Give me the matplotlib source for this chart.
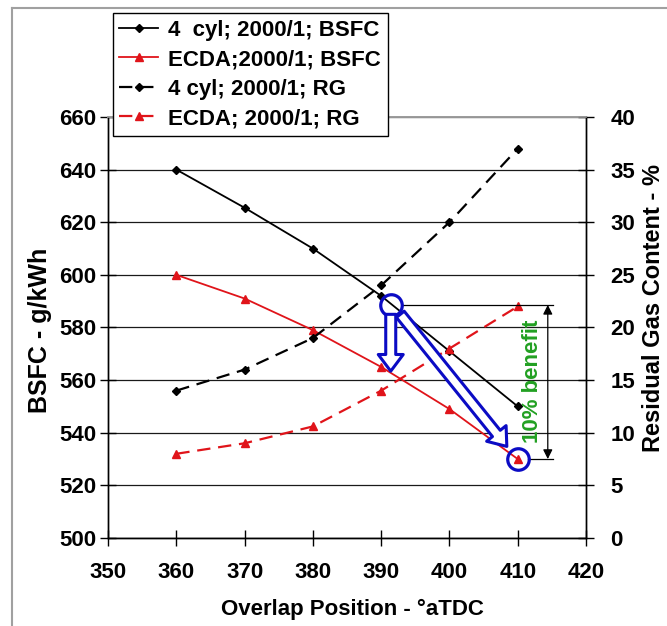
import matplotlib
matplotlib.use("Agg")
import matplotlib.pyplot as plt
from matplotlib.lines import Line2D

plt.rcParams['font.family'] = ['Liberation Sans', 'DejaVu Sans']
plt.rcParams['font.weight'] = 'bold'

# overlap position, deg aTDC
overlap = [360, 370, 380, 390, 400, 410]

# BSFC, g/kWh (left axis)
bsfc_4cyl = [640, 625.5, 610, 592, 571, 550]
bsfc_ecda = [600, 591, 579, 565, 549, 530]

# residual gas content, % (right axis)
rg_4cyl = [14, 16, 19, 24, 30, 37]
rg_ecda = [8, 9, 10.6, 14, 18, 22]

labels = ["4  cyl; 2000/1; BSFC", "ECDA;2000/1; BSFC",
          "4 cyl; 2000/1; RG", "ECDA; 2000/1; RG"]

# benefit markers (BSFC axis coordinates)
ref_point = (391.5, 588.6)
best_point = (410, 530)

red = '#e0141a'
blue = '#0b0bc4'
green = '#22a022'

fig = plt.figure(figsize=(6.67, 6.26), dpi=100)
ax = fig.add_axes([0.162, 0.1406, 0.7166, 0.6725])
ax2 = ax.twinx()

l1, = ax.plot(overlap, bsfc_4cyl, color='k', lw=1.3, marker='D', ms=4)
l2, = ax.plot(overlap, bsfc_ecda, color=red, lw=1.3, marker='^', ms=6)
l3, = ax2.plot(overlap, rg_4cyl, color='k', lw=1.6, ls=(0, (6, 3.5)), marker='D', ms=4)
l4, = ax2.plot(overlap, rg_ecda, color=red, lw=1.6, ls=(0, (6, 3.5)), marker='^', ms=6)

ax.set_xlim(350, 420)
ax.set_ylim(500, 660)
ax2.set_ylim(0, 40)
ax.set_xticks(range(350, 421, 10))
ax.set_yticks(range(500, 661, 20))
ax2.set_yticks(range(0, 41, 5))

ax.yaxis.grid(True, color='#1a1a1a', lw=0.9)
ax.set_axisbelow(True)

for a in (ax, ax2):
    for side in ('left', 'right', 'bottom'):
        a.spines[side].set_color('k')
        a.spines[side].set_linewidth(1.0)
    a.spines['top'].set_color('#9a9a9a')
    a.spines['top'].set_linewidth(1.2)

ax.tick_params(axis='y', direction='inout', length=11, width=1, pad=3, labelsize=16)
ax.tick_params(axis='x', direction='inout', length=11, width=1, pad=12, labelsize=16)
ax2.tick_params(axis='y', direction='inout', length=11, width=1, pad=12, labelsize=16)

ax.set_xlabel("Overlap Position - °aTDC", fontsize=16, fontweight='bold')
ax.set_ylabel("BSFC - g/kWh", fontsize=18, fontweight='bold')
ax2.set_ylabel("Residual Gas Content - %", fontsize=17, fontweight='bold', rotation=90)
ax.xaxis.set_label_coords(0.512, -0.145)
ax.yaxis.set_label_coords(-0.118, 0.494)
ax2.yaxis.set_label_coords(1.118, 0.546)

# annotations drawn on top of all curves, in BSFC coordinates
tr = ax.transData
ax2.plot(*ref_point, transform=tr, marker='o', ms=15.5, mfc='none', mec=blue, mew=2.3, zorder=6)
ax2.plot(*best_point, transform=tr, marker='o', ms=15.5, mfc='none', mec=blue, mew=2.3, zorder=6)

ax2.plot([393.1, 415.1], [ref_point[1], ref_point[1]], transform=tr, color='k', lw=0.9, zorder=5)
ax2.plot([411.5, 415.1], [best_point[1], best_point[1]], transform=tr, color='k', lw=0.9, zorder=5)
ax2.annotate('', xy=(414.4, best_point[1]), xytext=(414.4, ref_point[1]),
             xycoords=tr, textcoords=tr,
             arrowprops=dict(arrowstyle='<|-|>', color='k', lw=0.9,
                             mutation_scale=14, shrinkA=0, shrinkB=0), zorder=5)

hollow = dict(arrowstyle='simple,head_length=0.5,head_width=0.75,tail_width=0.3',
              fc='white', ec=blue, lw=2.2, mutation_scale=24, shrinkA=0, shrinkB=0)
ax2.annotate('', xy=(391.4, 563.4), xytext=(391.4, 585.0),
             xycoords=tr, textcoords=tr, arrowprops=hollow, zorder=6)
ax2.annotate('', xy=(408.4, 534.8), xytext=(392.8, 585.0),
             xycoords=tr, textcoords=tr, arrowprops=hollow, zorder=6)

ax2.text(412.2, 559.6, "10% benefit", transform=tr, rotation=90, color=green,
         fontsize=16, fontweight='bold', ha='center', va='center', zorder=6)

fig.legend([l1, l2, l3, l4], labels, loc='upper left',
           bbox_to_anchor=(0.169, 0.979), borderaxespad=0,
           prop={'size': 16, 'weight': 'bold'}, frameon=True, fancybox=False,
           edgecolor='k', framealpha=1, handlelength=1.75, handletextpad=0.45,
           labelspacing=0.38, borderpad=0.3)
fig.legends[0].get_frame().set_linewidth(1.0)

# chart area border (top and left edges)
fig.add_artist(Line2D([12 / 667, 1], [1 - 8 / 626, 1 - 8 / 626], color='#a0a0a0', lw=1.5))
fig.add_artist(Line2D([12 / 667, 12 / 667], [0, 1 - 8 / 626], color='#a0a0a0', lw=1.5))

fig.savefig("out.png", dpi=100)
